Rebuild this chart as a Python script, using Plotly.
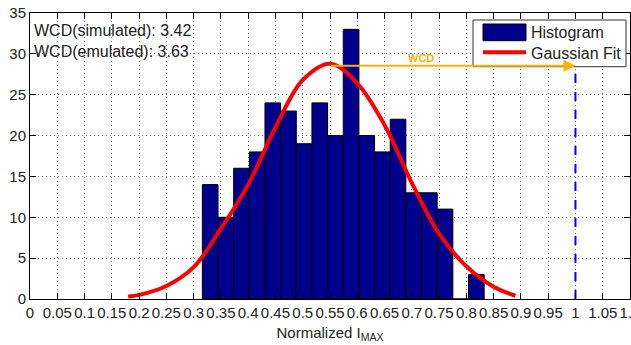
import plotly.graph_objects as go

# ---- data ----
counts = [14, 10, 16, 18, 24, 23, 19, 24, 20, 33, 20, 18, 22, 13, 13, 11, 0, 3]
bin_start = 0.316
bin_width = 0.0287
centers = [bin_start + bin_width * (i + 0.5) for i in range(len(counts))]

fit_x = [0.18, 0.20, 0.25, 0.30, 0.35, 0.40, 0.45, 0.50, 0.55, 0.60, 0.65, 0.70, 0.75, 0.80, 0.85, 0.89]
fit_y = [0.3, 0.5, 1.6, 3.9, 8.6, 14.0, 21.0, 26.8, 28.8, 26.4, 21.3, 14.2, 8.0, 4.0, 1.5, 0.4]

wcd_simulated = 3.42
wcd_emulated = 3.63
wcd_limit = 1.0
arrow_start_x = 0.549
arrow_y = 28.55

x_ticks = [round(0.05 * i, 2) for i in range(23)]
x_ticktext = ["0", "0.05", "0.1", "0.15", "0.2", "0.25", "0.3", "0.35", "0.4", "0.45", "0.5",
              "0.55", "0.6", "0.65", "0.7", "0.75", "0.8", "0.85", "0.9", "0.95", "1", "1.05", "1.1"]
y_ticks = [0, 5, 10, 15, 20, 25, 30, 35]

FONT = "Liberation Sans, Arial, sans-serif"
NAVY = "rgb(0,0,140)"
ORANGE = "#FFB000"

fig = go.Figure()
fig.add_trace(go.Bar(x=centers, y=counts, width=bin_width, name="Histogram",
                     marker=dict(color=NAVY, line=dict(color="black", width=1)),
                     showlegend=False))
fig.add_trace(go.Scatter(x=fit_x, y=fit_y, mode="lines", name="Gaussian Fit",
                         line=dict(color="red", width=4, shape="spline"), showlegend=False))
fig.add_trace(go.Scatter(x=[wcd_limit, wcd_limit], y=[0, 35], mode="lines",
                         line=dict(color="blue", width=2, dash="dash"), showlegend=False))

# arrow + WCD label
fig.add_annotation(x=wcd_limit, y=arrow_y, ax=arrow_start_x, ay=arrow_y,
                   xref="x", yref="y", axref="x", ayref="y", text="",
                   showarrow=True, arrowhead=2, arrowsize=1.2, arrowwidth=2, arrowcolor=ORANGE)
fig.add_annotation(x=0.717, y=29.5, xref="x", yref="y", text="<b>WCD</b>", showarrow=False,
                   font=dict(family=FONT, size=11, color=ORANGE))

# WCD texts
fig.add_annotation(x=0.004, y=(299 - 30.5) / 286, xref="paper", yref="paper", xanchor="left",
                   yanchor="middle", text=f"WCD(simulated): {wcd_simulated:.2f}", showarrow=False,
                   font=dict(family=FONT, size=16, color="#222"))
fig.add_annotation(x=0.004, y=(299 - 51) / 286, xref="paper", yref="paper", xanchor="left",
                   yanchor="middle", text=f"WCD(emulated): {wcd_emulated:.2f}", showarrow=False,
                   font=dict(family=FONT, size=16, color="#222"))

# manual legend
def px_x(p):
    return (p - 30) / 600

def px_y(p):
    return (299 - p) / 286

fig.add_shape(type="rect", xref="paper", yref="paper", x0=px_x(473), x1=px_x(626),
              y0=px_y(66.7), y1=px_y(20), fillcolor="white", line=dict(color="#333", width=1),
              layer="above")
fig.add_shape(type="rect", xref="paper", yref="paper", x0=px_x(483), x1=px_x(526),
              y0=px_y(40.7), y1=px_y(24), fillcolor=NAVY, line=dict(color="black", width=1),
              layer="above")
fig.add_shape(type="line", xref="paper", yref="paper", x0=px_x(483), x1=px_x(526),
              y0=px_y(52.3), y1=px_y(52.3), line=dict(color="red", width=4), layer="above")
fig.add_annotation(x=px_x(529), y=px_y(33), xref="paper", yref="paper", xanchor="left",
                   yanchor="middle", text="Histogram", showarrow=False,
                   font=dict(family=FONT, size=16, color="#222"))
fig.add_annotation(x=px_x(529), y=px_y(54), xref="paper", yref="paper", xanchor="left",
                   yanchor="middle", text="Gaussian Fit", showarrow=False,
                   font=dict(family=FONT, size=16, color="#222"))

axis_common = dict(showline=True, linecolor="black", linewidth=1, mirror="ticks",
                   ticks="inside", ticklen=6, tickcolor="black", showgrid=True,
                   gridcolor="#777", griddash="1px,3px", gridwidth=1, zeroline=False,
                   automargin=False,
                   tickfont=dict(family=FONT, size=15, color="#222"))

fig.update_xaxes(range=[0, 1.1], tickvals=x_ticks, ticktext=x_ticktext, tickangle=0,
                 ticklabeloverflow="allow",
                 title=dict(text="Normalized I<sub>MAX</sub>", standoff=7,
                            font=dict(family=FONT, size=15, color="#222")),
                 **axis_common)
fig.update_yaxes(range=[0, 35], tickvals=y_ticks, **axis_common)

fig.update_layout(width=631, height=345, margin=dict(l=30, r=1, t=13, b=46),
                  paper_bgcolor="white", plot_bgcolor="white", showlegend=False,
                  font=dict(family=FONT))

fig.write_html("out.html")
